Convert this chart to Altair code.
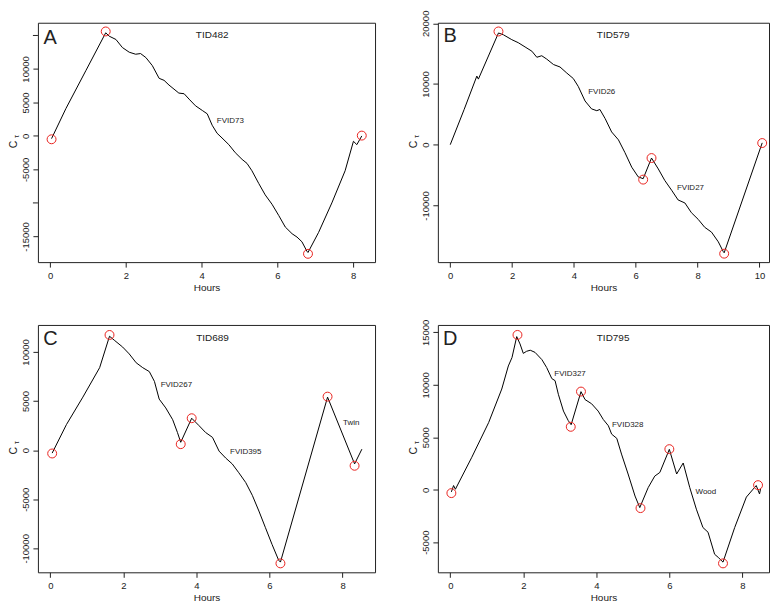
import altair as alt
import pandas as pd

FONT = "Liberation Sans"
TXT = "#222222"

# ---------------- Panel A (TID482) ----------------
a_hours = [0.04, 0.42, 0.95, 1.47, 1.56, 1.74, 1.91, 2.09, 2.26, 2.39, 2.53, 2.70, 2.88, 3.01, 3.14,
           3.40, 3.54, 3.67, 3.84, 4.02, 4.15, 4.28, 4.41, 4.54, 4.72, 4.89, 5.07, 5.20, 5.33, 5.51,
           5.68, 5.86, 6.04, 6.21, 6.39, 6.52, 6.65, 6.78, 6.81, 7.09, 7.44, 7.79, 8.01, 8.10, 8.23]
a_ct = [-400, 4100, 9800, 15400, 14900, 14400, 13200, 12500, 12200, 12300, 11700, 10500, 8600, 8300, 7600,
        6400, 6300, 5500, 4500, 3800, 3300, 1600, 400, -300, -1300, -2500, -3500, -4100, -5200, -7100,
        -8800, -10200, -11900, -13600, -14600, -15100, -15800, -17200, -17400, -14400, -10000, -5200, -800, -1300, 0]
a_pk_hours = [0.04, 1.47, 6.81, 8.23]
a_pk_ct = [-500, 15600, -17600, 50]
a_lab = ["A", "TID482", "FVID73"]
a_lab_hours = [0.0, 4.28, 4.76]
a_lab_ct = [14640, 15020, 2220]

# ---------------- Panel B (TID579) ----------------
b_hours = [0.0, 0.45, 0.86, 0.91, 1.56, 1.72, 1.99, 2.20, 2.42, 2.64, 2.80, 2.96, 3.12, 3.34, 3.55,
           3.77, 3.98, 4.14, 4.36, 4.57, 4.74, 4.84, 5.01, 5.22, 5.44, 5.65, 5.87, 6.08, 6.24, 6.51,
           6.73, 6.94, 7.16, 7.37, 7.59, 7.80, 8.02, 8.23, 8.45, 8.67, 8.83, 8.86, 10.09]
b_ct = [0, 5800, 11300, 10800, 18400, 18100, 17300, 16800, 16100, 15400, 14400, 14650, 14100, 13200, 12800,
        11800, 10900, 9600, 7200, 5900, 5600, 5800, 4300, 2100, 800, -1300, -3700, -5300, -5600, -2200,
        -4000, -5900, -7500, -9100, -9600, -11200, -12300, -13600, -14400, -16000, -17600, -17800, 300]
b_pk_hours = [1.56, 6.24, 6.51, 8.86, 10.09]
b_pk_ct = [18650, -5750, -2200, -17950, 270]
b_lab = ["B", "TID579", "FVID26", "FVID27"]
b_lab_hours = [0.0, 5.27, 4.90, 7.77]
b_lab_ct = [17850, 18010, 8680, -7190]

# ---------------- Panel C (TID689) ----------------
c_hours = [0.05, 0.44, 0.89, 1.35, 1.62, 1.75, 1.98, 2.16, 2.35, 2.53, 2.71, 2.85, 2.98, 3.16, 3.35,
           3.48, 3.57, 3.87, 4.07, 4.25, 4.44, 4.62, 4.80, 4.98, 5.16, 5.35, 5.53, 5.71, 5.89, 6.07,
           6.25, 6.30, 7.59, 8.33, 8.53]
c_ct = [-300, 2600, 5400, 8400, 11600, 11200, 10500, 9800, 8900, 8400, 8000, 7000, 5200, 4300, 3100,
        1800, 800, 3250, 2500, 1800, 1300, -100, -800, -1400, -2300, -3300, -4600, -6200, -7900, -9600,
        -11200, -11400, 5400, -1400, 100]
c_pk_hours = [0.05, 1.62, 3.57, 3.87, 6.30, 7.59, 8.33]
c_pk_ct = [-340, 11730, 610, 3250, -11530, 5450, -1590]
c_lab = ["C", "TID689", "FVID267", "FVID395", "Twin"]
c_lab_hours = [0.0, 4.44, 3.45, 5.35, 8.24]
c_lab_ct = [11290, 11390, 6610, -140, 2750]

# ---------------- Panel D (TID795) ----------------
d_hours = [0.03, 0.09, 0.14, 0.59, 1.05, 1.41, 1.59, 1.69, 1.82, 1.91, 2.00, 2.09, 2.19, 2.32, 2.51,
           2.64, 2.78, 2.87, 2.96, 3.10, 3.23, 3.31, 3.58, 3.69, 3.87, 4.05, 4.19, 4.33, 4.42, 4.56,
           4.69, 4.87, 5.06, 5.19, 5.42, 5.60, 5.74, 6.00, 6.20, 6.38, 6.56, 6.74, 6.92, 7.06, 7.24,
           7.34, 7.47, 7.79, 8.11, 8.38, 8.47, 8.50]
d_ct = [-200, 400, 50, 3100, 6400, 9600, 11800, 12600, 14600, 13900, 13000, 13200, 13300, 13100, 12400,
        11650, 10600, 10400, 9100, 7500, 6600, 6200, 9350, 8600, 8200, 7500, 6700, 6100, 5300, 4900,
        3400, 1500, -600, -1700, 200, 1300, 1650, 3850, 1500, 2550, 200, -1850, -3600, -4050, -6150,
        -6450, -6900, -3600, -700, 400, -400, 100]
d_pk_hours = [0.03, 1.84, 3.30, 3.58, 5.21, 6.00, 7.47, 8.43]
d_pk_ct = [-320, 14760, 6000, 9360, -1750, 3870, -7020, 440]
d_lab = ["D", "TID795", "FVID327", "FVID328", "Wood"]
d_lab_hours = [0.0, 4.46, 3.28, 4.86, 7.00]
d_lab_ct = [14350, 14440, 11080, 6190, -190]

# axis domains / ticks (labels shown; extra unlabeled ticks listed separately)
a_xdom, a_ydom = [-0.32, 8.58], [-18840, 16900]
b_xdom, b_ydom = [-0.40, 10.31], [-19340, 20085]
c_xdom, c_ydom = [-0.34, 8.89], [-12440, 12750]
d_xdom, d_ydom = [-0.34, 8.73], [-7870, 15710]
a_yticks = [-15000, -5000, 0, 5000, 10000]
a_yticks_unlabeled = [-10000, 15000]
b_yticks = [-10000, 0, 10000, 20000]
c_yticks = [-10000, -5000, 0, 5000, 10000]
d_yticks = [-5000, 0, 5000, 10000, 15000]
x8 = [0, 2, 4, 6, 8]
x10 = [0, 2, 4, 6, 8, 10]


def panel(hours, ct, pk_h, pk_c, labs, lab_h, lab_c, xdom, ydom, xticks, yticks, yextra, w, h):
    line_df = pd.DataFrame({"Hours": hours, "Ct": ct, "i": range(len(hours))})
    pk_df = pd.DataFrame({"Hours": pk_h, "Ct": pk_c})
    lab_df = pd.DataFrame({"Hours": lab_h, "Ct": lab_c, "t": labs,
                           "size": [20] + [10] + [8] * (len(labs) - 2)})
    xs = alt.Scale(domain=xdom, nice=False, zero=False)
    ys = alt.Scale(domain=ydom, nice=False, zero=False)
    xax = alt.Axis(values=xticks, title="Hours", grid=False, domain=False, tickSize=5,
                   labelPadding=3, titlePadding=3, labelFontSize=9.5, titleFontSize=10,
                   labelFont=FONT, titleFont=FONT, titleFontWeight="normal",
                   labelColor=TXT, titleColor=TXT, tickColor=TXT, labelFlush=False)
    yax = alt.Axis(values=yticks, title=None, grid=False, domain=False, tickSize=5,
                   labelAngle=270, labelAlign="center", labelBaseline="bottom",
                   labelPadding=2, labelFontSize=9.5, labelFont=FONT, labelColor=TXT,
                   tickColor=TXT, labelOverlap=False, labelFlush=False,
                   labelExpr="'' + datum.value")
    base_x = alt.X("Hours:Q", scale=xs, axis=xax)
    base_y = alt.Y("Ct:Q", scale=ys, axis=yax)
    line = alt.Chart(line_df).mark_line(color="black", strokeWidth=1).encode(
        x=base_x, y=base_y, order="i:Q")
    pts = alt.Chart(pk_df).mark_point(shape="circle", filled=False, color="#e8231f",
                                      size=80, strokeWidth=1, opacity=1).encode(
        x=alt.X("Hours:Q", scale=xs), y=alt.Y("Ct:Q", scale=ys))
    txt = alt.Chart(lab_df).mark_text(font=FONT, color=TXT, align="center",
                                      baseline="middle").encode(
        x=alt.X("Hours:Q", scale=xs), y=alt.Y("Ct:Q", scale=ys),
        text="t:N", size=alt.Size("size:Q", scale=None, legend=None))
    ytitle_c = alt.Chart(pd.DataFrame({"t": ["C"]})).mark_text(
        font=FONT, color=TXT, fontSize=10.5, angle=270, align="center", baseline="middle").encode(
        x=alt.value(-24), y=alt.value(h / 2 + 2), text="t:N")
    ytitle_s = alt.Chart(pd.DataFrame({"t": ["τ"]})).mark_text(
        font=FONT, color=TXT, fontSize=7, angle=270, align="center", baseline="middle").encode(
        x=alt.value(-21), y=alt.value(h / 2 - 6), text="t:N")
    layers = [line, pts, txt, ytitle_c, ytitle_s]
    if yextra:
        # unlabeled tick marks outside the left edge of the box
        tk = alt.Chart(pd.DataFrame({"Ct": yextra})).mark_rule(color=TXT, strokeWidth=1).encode(
            y=alt.Y("Ct:Q", scale=ys), x=alt.value(-5), x2=alt.value(0))
        layers.append(tk)
    return alt.layer(*layers).properties(width=w, height=h)


pA = panel(a_hours, a_ct, a_pk_hours, a_pk_ct, a_lab, a_lab_hours, a_lab_ct,
           a_xdom, a_ydom, x8, a_yticks, a_yticks_unlabeled, 338, 240)
pB = panel(b_hours, b_ct, b_pk_hours, b_pk_ct, b_lab, b_lab_hours, b_lab_ct,
           b_xdom, b_ydom, x10, b_yticks, [], 332, 240)
pC = panel(c_hours, c_ct, c_pk_hours, c_pk_ct, c_lab, c_lab_hours, c_lab_ct,
           c_xdom, c_ydom, x8, c_yticks, [], 338, 248)
pD = panel(d_hours, d_ct, d_pk_hours, d_pk_ct, d_lab, d_lab_hours, d_lab_ct,
           d_xdom, d_ydom, x8, d_yticks, [], 332, 248)

chart = alt.concat(pA, pB, pC, pD, columns=2).properties(
    spacing=63, bounds="flush",
    padding={"left": 0, "top": 0, "right": 2, "bottom": 2},
    background="white",
).configure_view(stroke="#222222", strokeWidth=1).configure_axis(labelOverlap=False)

chart.save("out.html", embed_options={"renderer": "svg", "actions": False})
